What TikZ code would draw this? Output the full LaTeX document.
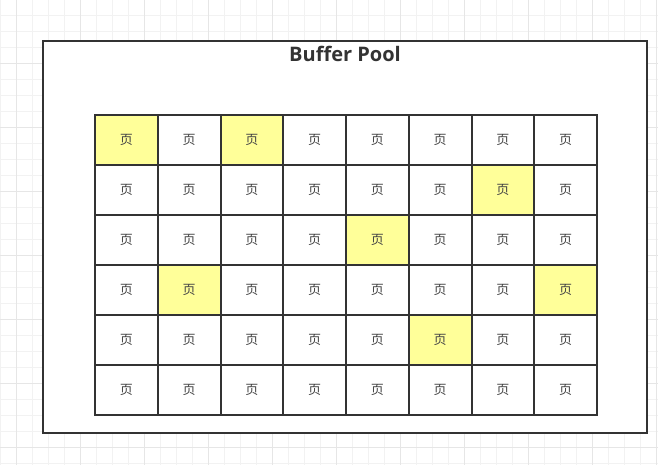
\documentclass[tikz,border=0pt]{standalone}
\usepackage{fontspec}
\setmainfont{Open Sans}
\newfontfamily\cjk{Noto Sans CJK SC}
\definecolor{linec}{HTML}{333333}
\definecolor{pageyellow}{HTML}{FFFF99}
\definecolor{gridminor}{HTML}{F2F2F2}
\definecolor{gridmajor}{HTML}{E6E6E6}
\definecolor{textc}{HTML}{444444}
\tikzset{
  cell/.style={draw=linec, line width=2pt, fill=white, minimum width=62.75pt, minimum height=50pt,
    inner sep=0pt, outer sep=0pt, font=\cjk\fontsize{13}{15}\selectfont, text=textc},
  pool/.style={draw=linec, line width=2pt, fill=white, minimum width=604pt, minimum height=392pt, inner sep=0pt},
  title/.style={font=\bfseries\fontsize{20}{22}\selectfont, text=linec},
  hl00/.style={fill=pageyellow}, hl02/.style={fill=pageyellow},
  hl16/.style={fill=pageyellow}, hl24/.style={fill=pageyellow},
  hl31/.style={fill=pageyellow}, hl37/.style={fill=pageyellow},
  hl45/.style={fill=pageyellow}
}
\begin{document}
\begin{tikzpicture}[x=1pt,y=-1pt]
\useasboundingbox (0,0) rectangle (658,465);
\fill[white] (0,0) rectangle (658,465);
% canvas grid
\foreach \k in {0,...,41} {
  \pgfmathsetmacro{\xx}{16*\k}
  \draw[gridminor, line width=0.8pt] (\xx,0) -- (\xx,465);
}
\foreach \k in {0,...,28} {
  \pgfmathsetmacro{\yy}{15+16*\k}
  \draw[gridminor, line width=0.8pt] (0,\yy) -- (658,\yy);
}
\foreach \k in {0,...,10} {
  \pgfmathsetmacro{\xx}{16+64*\k}
  \draw[gridmajor, line width=0.8pt] (\xx,0) -- (\xx,465);
}
\foreach \k in {0,...,7} {
  \pgfmathsetmacro{\yy}{63+64*\k}
  \draw[gridmajor, line width=0.8pt] (0,\yy) -- (658,\yy);
}
% buffer pool
\node[pool] (pool) at (345,237) {};
\node[title] (ttl) at (345,54) {Buffer Pool};
\foreach \r in {0,...,5} {
  \foreach \c in {0,...,7} {
    \pgfmathsetmacro{\cx}{95+62.75*\c+31.375}
    \pgfmathsetmacro{\cy}{115+50*\r+25}
    \node[cell, hl\r\c/.try] (c\r\c) at (\cx,\cy) {页};
  }
}
\end{tikzpicture}
\end{document}
